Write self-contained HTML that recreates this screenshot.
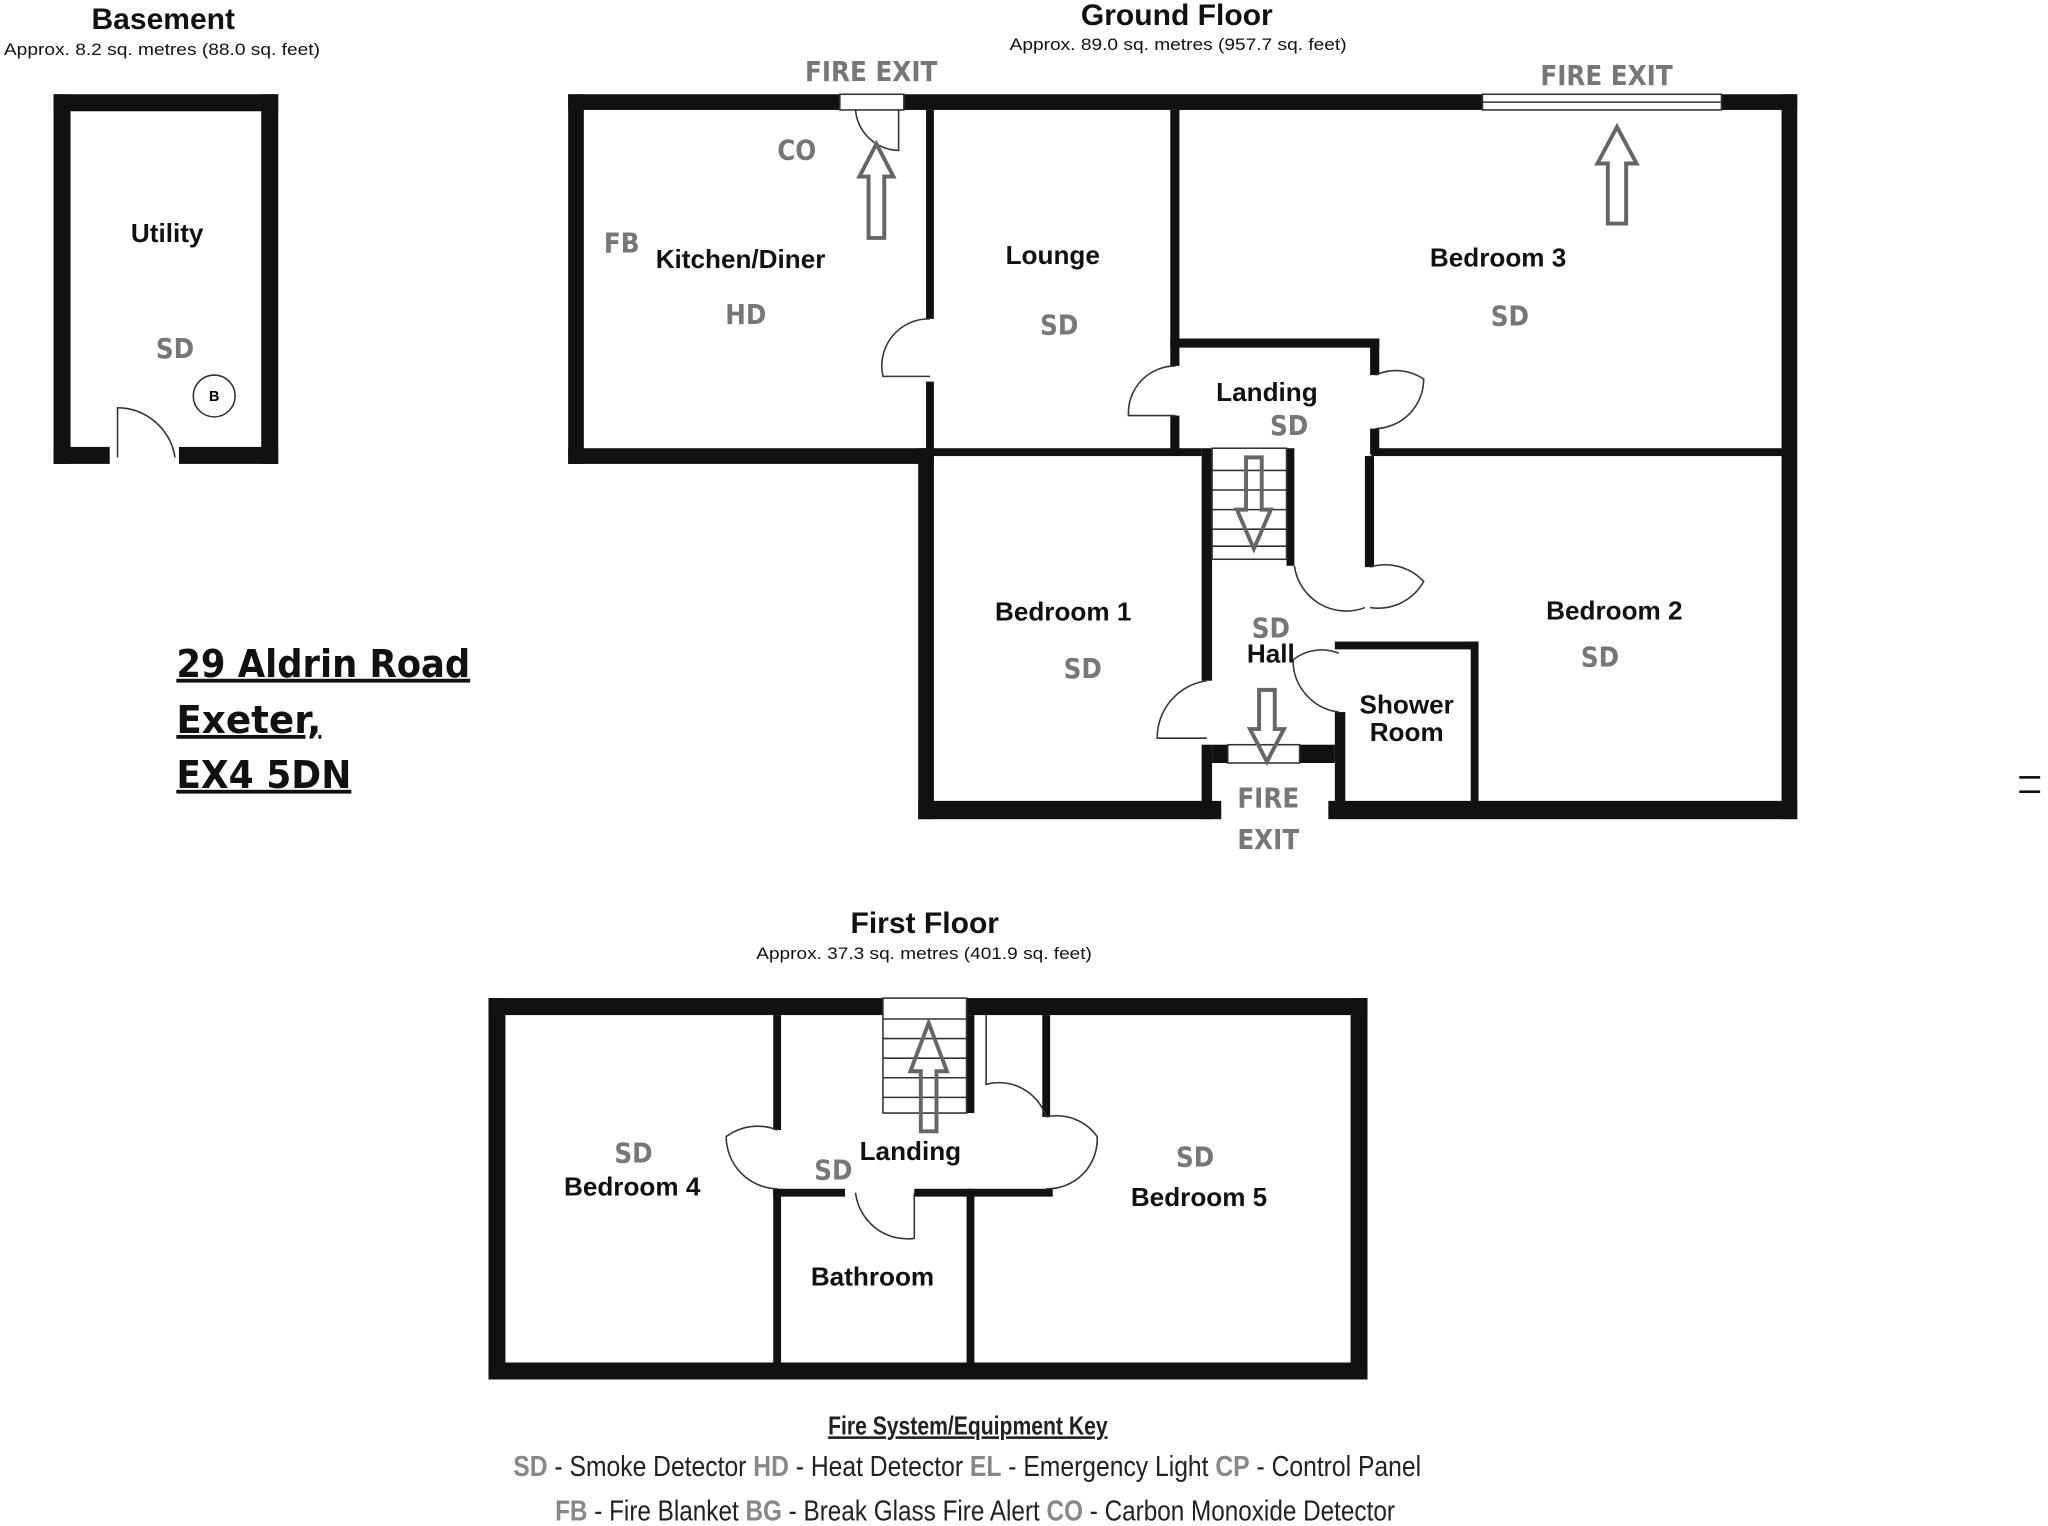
<!DOCTYPE html>
<html><head><meta charset="utf-8"><style>
html,body{margin:0;padding:0;background:#fff;}
svg{display:block}
.rn{font-family:"Liberation Sans",sans-serif;font-weight:bold;font-size:20px;fill:#111;text-anchor:middle}
.g{font-family:"DejaVu Sans Condensed","Liberation Sans",sans-serif;font-weight:bold;font-size:21px;fill:#777;text-anchor:middle}
.t{font-family:"Liberation Sans",sans-serif;font-weight:bold;font-size:23px;fill:#111;text-anchor:middle}
.s{font-family:"Liberation Sans",sans-serif;font-size:13px;fill:#111}
.k{font-family:"Liberation Sans",sans-serif;font-size:22px;fill:#222}
.a{font-family:"DejaVu Sans","Liberation Sans",sans-serif;font-weight:bold;font-size:29px;fill:#111;text-decoration:underline}
</style></head><body>
<svg width="2048" height="1526" viewBox="0 0 1568 1168" xmlns="http://www.w3.org/2000/svg">
<g fill="#111">
<rect x="41" y="72" width="172" height="13"/>
<rect x="41" y="72" width="13" height="283"/>
<rect x="200" y="72" width="13" height="283"/>
<rect x="41" y="342" width="43" height="13"/>
<rect x="137" y="342" width="76" height="13"/>
<rect x="435" y="72" width="208" height="12"/>
<rect x="692" y="72" width="443" height="12"/>
<rect x="1318" y="72" width="58" height="12"/>
<rect x="435" y="72" width="12" height="283"/>
<rect x="435" y="343" width="280" height="12"/>
<rect x="703" y="343" width="12" height="284"/>
<rect x="703" y="613" width="232" height="14"/>
<rect x="1017" y="613" width="359" height="14"/>
<rect x="1364" y="72" width="12" height="555"/>
<rect x="709" y="84" width="6" height="160"/>
<rect x="709" y="292" width="6" height="55"/>
<rect x="896" y="84" width="7" height="196"/>
<rect x="896" y="259" width="160" height="7"/>
<rect x="1049" y="259" width="7" height="28"/>
<rect x="896" y="318" width="7" height="30"/>
<rect x="1049" y="328" width="7" height="20"/>
<rect x="715" y="343" width="205" height="6"/>
<rect x="1050" y="343" width="314" height="6"/>
<rect x="920" y="343" width="8" height="178"/>
<rect x="920" y="570" width="8" height="57"/>
<rect x="985" y="343" width="6" height="90"/>
<rect x="1045" y="349" width="7" height="85"/>
<rect x="1022" y="491" width="110" height="6"/>
<rect x="1126" y="491" width="6" height="125"/>
<rect x="1022" y="545" width="8" height="70"/>
<rect x="928" y="570" width="12" height="14"/>
<rect x="995" y="570" width="27" height="14"/>
<rect x="374" y="764" width="302" height="13"/>
<rect x="740" y="764" width="307" height="13"/>
<rect x="374" y="764" width="13" height="292"/>
<rect x="1034" y="764" width="13" height="292"/>
<rect x="374" y="1043" width="673" height="13"/>
<rect x="592" y="777" width="6" height="88"/>
<rect x="592" y="910" width="6" height="133"/>
<rect x="740" y="777" width="6" height="75"/>
<rect x="798" y="777" width="6" height="78"/>
<rect x="592" y="910" width="55" height="6"/>
<rect x="700" y="910" width="106" height="6"/>
<rect x="740" y="910" width="6" height="133"/>
</g>
<g fill="none" stroke="#333" stroke-width="1.2">
<path d="M90 350 V312 A45 45 0 0 1 134 350"/>
<path d="M688 84 V115 A34 34 0 0 1 655 84"/>
<path d="M712 244 A36 36 0 0 0 676 288 H712"/>
<path d="M900 280 A36 36 0 0 0 864 318 H900"/>
<path d="M1053 287 A38 38 0 0 1 1090 290 A38 38 0 0 1 1053 328"/>
<path d="M991 433 A40 40 0 0 0 1045 465"/>
<path d="M1049 434 A40 40 0 0 1 1090 445 A40 40 0 0 1 1049 465"/>
<path d="M1025 500 A35 35 0 0 0 990 505 M1025 545 A40 40 0 0 1 990 505"/>
<path d="M924 521 A44 44 0 0 0 886 565 H924"/>
<path d="M595 865 A40 40 0 0 0 556 870 A40 40 0 0 0 595 910"/>
<path d="M801 855 A38 38 0 0 0 755 830 V777 M801 855 A38 38 0 0 1 840 870 A38 38 0 0 1 801 910"/>
<path d="M700 913 V948 A40 40 0 0 1 655 913"/>
<circle cx="164" cy="303" r="16"/>
<rect x="1135" y="72" width="183" height="12"/>
<line x1="1135" y1="78" x2="1318" y2="78"/>
<rect x="643" y="72" width="49" height="12"/>
<rect x="928" y="343" width="57" height="85"/>
<path d="M928 360H985M928 375H985M928 390H985M928 405H985M928 418H985"/>
<rect x="676" y="764" width="64" height="88"/>
<path d="M676 780H740M676 795H740M676 810H740M676 825H740M676 840H740"/>
<rect x="940" y="570" width="55" height="14"/>
</g>
<g fill="none" stroke="#666" stroke-width="3">
<path d="M665 182 V135 H658 L671 110 L684 135 H677 V182 Z"/>
<path d="M1231 171 V125 H1223 L1238 97 L1253 125 H1245 V171 Z"/>
<path d="M954 350 V390 H947 L960 420 L973 390 H966 V350 Z"/>
<path d="M964 528 V558 H957 L970 583 L983 558 H976 V528 Z"/>
<path d="M705 866 V820 H697 L711 783 L725 820 H717 V866 Z"/>
</g>
<text x="164" y="307" font-family="Liberation Sans" font-size="11" font-weight="bold" text-anchor="middle">B</text>
<text class="t" x="125" y="22">Basement</text>
<text class="s" x="3" y="42" textLength="242" lengthAdjust="spacingAndGlyphs">Approx. 8.2 sq. metres (88.0 sq. feet)</text>
<text class="t" x="901" y="19">Ground Floor</text>
<text class="s" x="773" y="38" textLength="258" lengthAdjust="spacingAndGlyphs">Approx. 89.0 sq. metres (957.7 sq. feet)</text>
<text class="t" x="708" y="714">First Floor</text>
<text class="s" x="579" y="734" textLength="257" lengthAdjust="spacingAndGlyphs">Approx. 37.3 sq. metres (401.9 sq. feet)</text>
<text class="g" x="667" y="62">FIRE EXIT</text>
<text class="g" x="1230" y="65">FIRE EXIT</text>
<text class="g" x="971" y="618">FIRE</text>
<text class="g" x="971" y="650">EXIT</text>
<text class="rn" x="128" y="185">Utility</text>
<text class="g" x="134" y="274">SD</text>
<text class="g" x="610" y="122">CO</text>
<text class="g" x="476" y="193">FB</text>
<text class="rn" x="567" y="205">Kitchen/Diner</text>
<text class="g" x="571" y="248">HD</text>
<text class="rn" x="806" y="202">Lounge</text>
<text class="g" x="811" y="256">SD</text>
<text class="rn" x="1147" y="204">Bedroom 3</text>
<text class="g" x="1156" y="249">SD</text>
<text class="rn" x="970" y="307">Landing</text>
<text class="g" x="987" y="333">SD</text>
<text class="rn" x="814" y="475">Bedroom 1</text>
<text class="g" x="829" y="519">SD</text>
<text class="g" x="973" y="488">SD</text>
<text class="rn" x="973" y="507">Hall</text>
<text class="rn" x="1236" y="474">Bedroom 2</text>
<text class="g" x="1225" y="510">SD</text>
<text class="rn" x="1077" y="546">Shower</text>
<text class="rn" x="1077" y="567">Room</text>
<text class="g" x="485" y="890">SD</text>
<text class="rn" x="484" y="915">Bedroom 4</text>
<text class="rn" x="697" y="888">Landing</text>
<text class="g" x="638" y="903">SD</text>
<text class="g" x="915" y="893">SD</text>
<text class="rn" x="918" y="923">Bedroom 5</text>
<text class="rn" x="668" y="984">Bathroom</text>
<text class="a" x="135" y="518" textLength="225" lengthAdjust="spacingAndGlyphs">29 Aldrin Road</text>
<text class="a" x="135" y="561" textLength="111" lengthAdjust="spacingAndGlyphs">Exeter,</text>
<text class="a" x="135" y="603" textLength="134" lengthAdjust="spacingAndGlyphs">EX4 5DN</text>
<text x="634" y="1098" font-family="Liberation Sans" font-weight="bold" font-size="20" text-decoration="underline" fill="#222" textLength="214" lengthAdjust="spacingAndGlyphs">Fire System/Equipment Key</text>
<text class="k" x="393" y="1130" textLength="695" lengthAdjust="spacingAndGlyphs"><tspan fill="#888" font-weight="bold">SD</tspan> - Smoke Detector  <tspan fill="#888" font-weight="bold">HD</tspan> - Heat Detector  <tspan fill="#888" font-weight="bold">EL</tspan> - Emergency Light  <tspan fill="#888" font-weight="bold">CP</tspan> - Control Panel</text>
<text class="k" x="425" y="1164" textLength="643" lengthAdjust="spacingAndGlyphs"><tspan fill="#888" font-weight="bold">FB</tspan> - Fire Blanket  <tspan fill="#888" font-weight="bold">BG</tspan> - Break Glass Fire Alert  <tspan fill="#888" font-weight="bold">CO</tspan> - Carbon Monoxide Detector</text>
<rect x="1546" y="594" width="16" height="2" fill="#111"/>
<rect x="1546" y="605" width="16" height="2" fill="#111"/>
</svg>
</body></html>
